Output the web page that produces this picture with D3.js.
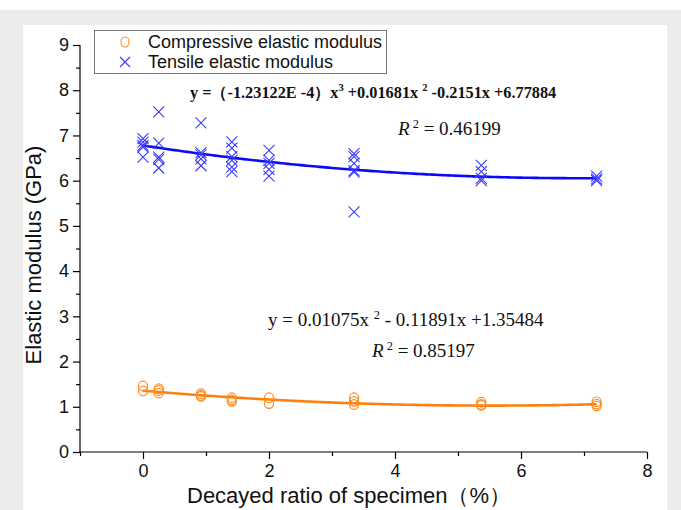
<!DOCTYPE html>
<html><head><meta charset="utf-8">
<script src="https://cdn.jsdelivr.net/npm/d3@7"></script>
<style>body{margin:0;background:#fff;}svg{display:block;}</style>
</head><body><svg id="c" width="681" height="510"></svg>
<script>
// ---- data ----
const tensileRatio = [0,0,0,0,0, 0.25,0.25,0.25,0.25,0.25, 0.92,0.92,0.92,0.92,0.92, 1.41,1.41,1.41,1.41,1.41,1.41, 2.0,2.0,2.0,2.0,2.0, 3.35,3.35,3.35,3.35,3.35,3.35, 5.37,5.37,5.37,5.37, 7.2,7.2,7.2];
const tensileModulus = [6.93,6.85,6.78,6.74,6.52, 7.52,6.83,6.52,6.47,6.28, 7.28,6.62,6.57,6.48,6.33, 6.86,6.72,6.53,6.45,6.30,6.20, 6.67,6.45,6.38,6.25,6.10, 6.60,6.53,6.38,6.22,6.19,5.31, 6.34,6.20,6.05,6.00, 6.10,6.04,6.00];
const compRatio = [0,0, 0.25,0.25,0.25, 0.92,0.92,0.92, 1.41,1.41,1.41, 2.0,2.0, 3.35,3.35,3.35, 5.37,5.37,5.37, 7.2,7.2,7.2];
const compModulus = [1.46,1.35, 1.40,1.36,1.30, 1.29,1.25,1.23, 1.20,1.15,1.12, 1.20,1.07, 1.20,1.12,1.05, 1.10,1.05,1.03, 1.11,1.06,1.02];
// fitted polynomial coefficients shown on the chart (c0, c1, c2, c3)
const tensileFit = [6.77884, -0.2151, 0.01681, -1.23122e-4];
const compFit = [1.35484, -0.11891, 0.01075];
const fitRange = [0, 7.2];
const xMajorTicks = [0,2,4,6,8];
const xMinorTicks = [-1,1,3,5,7];
const yMajorTicks = [0,1,2,3,4,5,6,7,8,9];
const yMinorTicks = [0.5,1.5,2.5,3.5,4.5,5.5,6.5,7.5,8.5];
const legendLabels = ["Compressive elastic modulus","Tensile elastic modulus"];

const svg = d3.select("#c");
svg.append("rect").attr("x",0).attr("y",10).attr("width",681).attr("height",500).attr("fill","#ececec");
svg.append("rect").attr("x",23).attr("y",25).attr("width",644).attr("height",485).attr("fill","#fff");

const x = d3.scaleLinear().domain([-1,8]).range([80,647]);
const y = d3.scaleLinear().domain([0,9]).range([452,45]);
const sans = "'Liberation Sans', Arial, sans-serif";
const serif = "'Liberation Serif', 'Times New Roman', serif";

// axes
const gx = svg.append("g").attr("transform","translate(0,452)");
gx.call(d3.axisBottom(x).tickValues(xMajorTicks).tickSize(7).tickPadding(5).tickFormat(d3.format("d")));
const gxm = svg.append("g").attr("transform","translate(0,452)");
gxm.call(d3.axisBottom(x).tickValues(xMinorTicks).tickSize(4).tickFormat(""));
gxm.select(".domain").remove();
const gy = svg.append("g").attr("transform","translate(80,0)");
gy.call(d3.axisLeft(y).tickValues(yMajorTicks).tickSize(7).tickPadding(4).tickFormat(d3.format("d")));
const gym = svg.append("g").attr("transform","translate(80,0)");
gym.call(d3.axisLeft(y).tickValues(yMinorTicks).tickSize(4).tickFormat(""));
gym.select(".domain").remove();
[gx,gy].forEach(g=>{
  g.select(".domain").attr("stroke","#000").attr("stroke-width",1.2);
  g.selectAll(".tick text").attr("font-family",sans).attr("font-size",18).attr("fill","#111");
});
gx.select(".domain").attr("d","M80,0H647");
gy.select(".domain").attr("d","M0,45V452");
svg.selectAll(".tick line").attr("stroke","#000").attr("stroke-width",1.2);

// fit curves
function poly(c, v){ return c.reduce((s,k,i)=>s+k*Math.pow(v,i),0); }
const xs = d3.range(fitRange[0], fitRange[1]+0.0001, 0.05);
const line = d3.line().x(d=>x(d[0])).y(d=>y(d[1]));
svg.append("path").datum(xs.map(v=>[v,poly(tensileFit,v)])).attr("d",line)
  .attr("fill","none").attr("stroke","#0a0af5").attr("stroke-width",2.6);
svg.append("path").datum(xs.map(v=>[v,poly(compFit,v)])).attr("d",line)
  .attr("fill","none").attr("stroke","#ff7f0e").attr("stroke-width",2.6);

// markers
const blue = "#3a3aff", orange = "#ff8a1c";
function cross(g, cx, cy, s){
  g.append("path").attr("d",`M${cx-s},${cy-s}L${cx+s},${cy+s}M${cx-s},${cy+s}L${cx+s},${cy-s}`)
   .attr("stroke",blue).attr("stroke-width",1.1).attr("fill","none");
}
const gt = svg.append("g");
tensileRatio.forEach((r,i)=>cross(gt, x(r), y(tensileModulus[i]), 5.5));
const gc = svg.append("g");
compRatio.forEach((r,i)=>gc.append("ellipse").attr("cx",x(r)).attr("cy",y(compModulus[i]))
  .attr("rx",4.5).attr("ry",4.8).attr("fill","none").attr("stroke",orange).attr("stroke-width",1.2));

// legend
svg.append("rect").attr("x",94.5).attr("y",30.5).attr("width",292).attr("height",43)
  .attr("fill","#fff").attr("stroke","#777").attr("stroke-width",1);
svg.append("ellipse").attr("cx",125).attr("cy",42).attr("rx",4).attr("ry",5).attr("fill","none").attr("stroke",orange).attr("stroke-width",1.1);
cross(svg, 125, 62, 5);
svg.append("text").attr("x",148).attr("y",48).text(legendLabels[0]).attr("font-family",sans).attr("font-size",18).attr("fill","#111");
svg.append("text").attr("x",148).attr("y",68).text(legendLabels[1]).attr("font-family",sans).attr("font-size",18).attr("fill","#111");

// axis titles
svg.append("text").attr("transform","translate(41,255) rotate(-90)").attr("text-anchor","middle")
  .attr("font-family",sans).attr("font-size",22).attr("fill","#111").text("Elastic modulus (GPa)");
svg.append("text").attr("x",187).attr("y",503)
  .attr("font-family",sans).attr("font-size",22).attr("fill","#111").text("Decayed ratio of specimen（%）");

// equations
function eq(x0, y0, parts, fs, weight){
  const t = svg.append("text").attr("x",x0).attr("y",y0).attr("font-family",serif).attr("font-size",fs)
    .attr("font-weight",weight).attr("fill","#111");
  parts.forEach(p=>{
    const s = t.append("tspan").text(p[0]);
    if(p[1]==="sup") s.attr("dy",-7).attr("font-size","0.65em");
    if(p[1]==="base") s.attr("dy",7);
    if(p[1]==="it") s.attr("font-style","italic");
  });
  return t;
}
eq(190, 98, [["y =（-1.23122E -4）x"],["3","sup"],[" +0.01681x ","base"],["2","sup"],[" -0.2151x +6.77884","base"]], 16.3, "bold");
eq(398, 135, [["R","it"],[" 2","sup"],[" = 0.46199","base"]], 19, "normal");
eq(268, 326, [["y = 0.01075x "],["2","sup"],[" - 0.11891x  +1.35484","base"]], 19, "normal");
eq(372, 357, [["R","it"],[" 2","sup"],[" = 0.85197","base"]], 19, "normal");
</script></body></html>
